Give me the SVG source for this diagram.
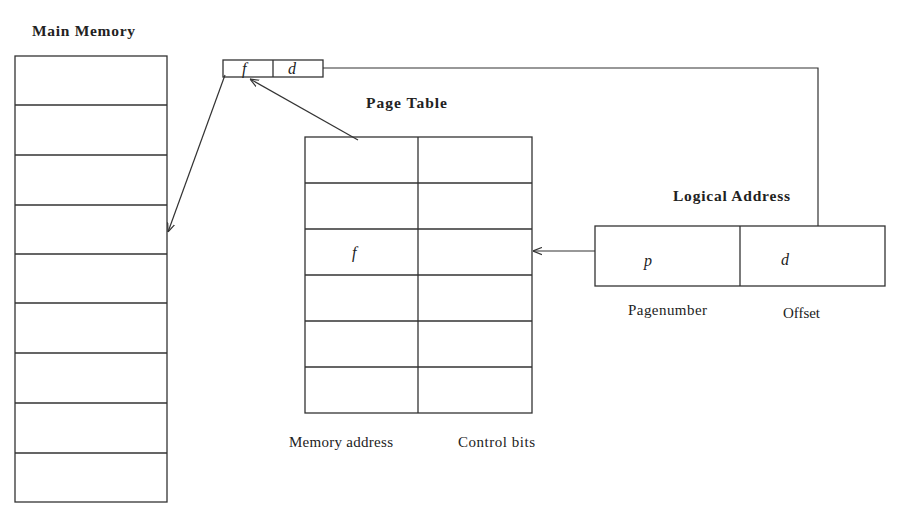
<svg xmlns="http://www.w3.org/2000/svg" width="900" height="516" viewBox="0 0 900 516">
<defs>
<style>
.box{fill:none;stroke:#333;stroke-width:1.3}
.ln{fill:none;stroke:#333;stroke-width:1.2}
.t{font-family:"Liberation Serif","Times New Roman",serif;font-size:15px;fill:#222}
.b{font-weight:bold;font-size:15.5px}
.i{font-style:italic;font-size:16px}
</style>
<marker id="ah" viewBox="0 0 10 10" refX="10" refY="5" markerWidth="9" markerHeight="9" markerUnits="userSpaceOnUse" orient="auto">
<path d="M0,1 L10,5 L0,9" fill="none" stroke="#333" stroke-width="1.3"/>
</marker>
</defs>
<rect width="900" height="516" fill="#fff"/>
<g id="main-memory">
<text class="t b" x="32" y="36" textLength="103" lengthAdjust="spacing">Main Memory</text>
<rect class="box" x="15" y="56" width="152" height="446"/>
<path class="box" d="M15,105H167M15,155H167M15,205H167M15,254H167M15,303H167M15,353H167M15,403H167M15,453H167"/>
</g>
<g id="frame-register">
<rect class="box" x="223" y="60" width="100" height="17"/>
<path class="box" d="M273,60V77"/>
<text class="t i" x="242" y="74">f</text>
<text class="t i" x="288" y="74">d</text>
</g>
<g id="page-table">
<text class="t b" x="366" y="108" textLength="81" lengthAdjust="spacing">Page Table</text>
<rect class="box" x="305" y="137" width="227" height="276"/>
<path class="box" d="M418,137V413M305,183H532M305,229H532M305,275H532M305,321H532M305,367H532"/>
<text class="t i" x="352" y="258">f</text>
<text class="t" x="289" y="447" textLength="104" lengthAdjust="spacing">Memory address</text>
<text class="t" x="458" y="447" textLength="77" lengthAdjust="spacing">Control bits</text>
</g>
<g id="logical-address">
<text class="t b" x="673" y="201" textLength="117" lengthAdjust="spacing">Logical Address</text>
<rect class="box" x="595" y="226" width="290" height="60"/>
<path class="box" d="M740,226V286"/>
<text class="t i" x="644" y="266">p</text>
<text class="t i" x="781" y="265">d</text>
<text class="t" x="628" y="315" textLength="79" lengthAdjust="spacing">Pagenumber</text>
<text class="t" x="783" y="318" textLength="37" lengthAdjust="spacing">Offset</text>
</g>
<g id="connectors">
<path class="ln" d="M323,68H818V226"/>
<path class="ln" d="M595,251H533" marker-end="url(#ah)"/>
<path class="ln" d="M358,140L250,79" marker-end="url(#ah)"/>
<path class="ln" d="M225,75L168,232" marker-end="url(#ah)"/>
</g>
</svg>
